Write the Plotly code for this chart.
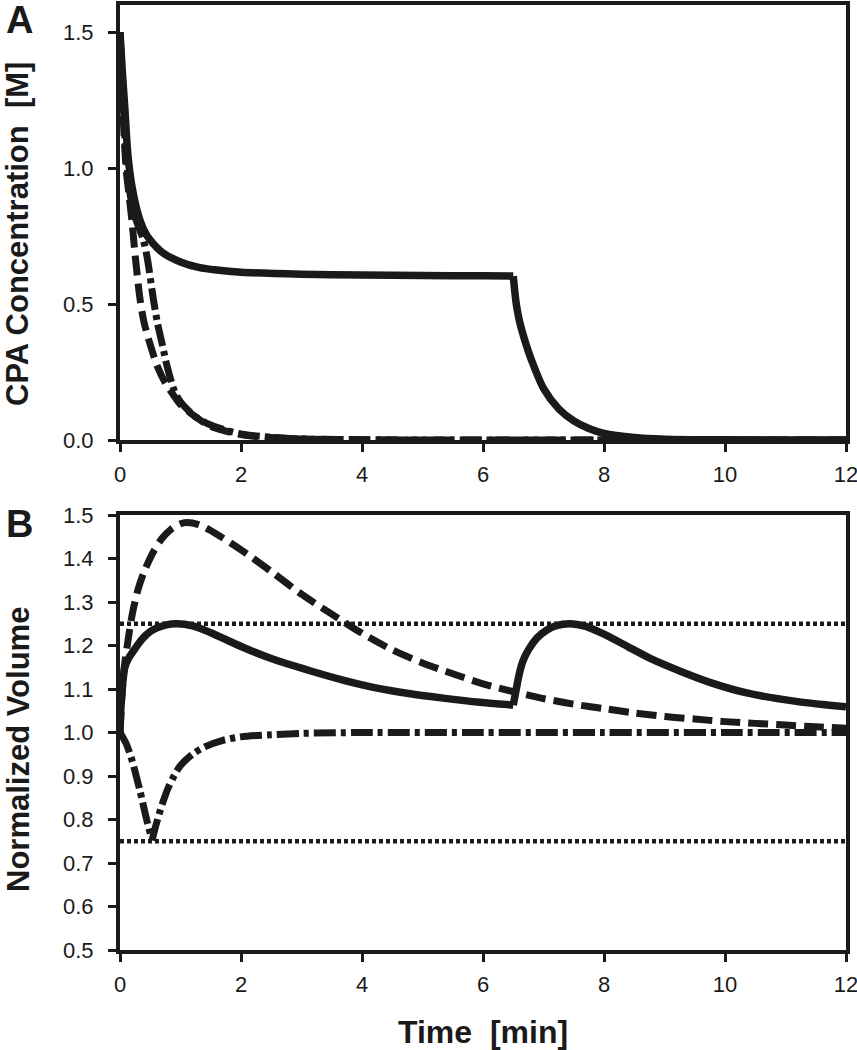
import plotly.graph_objects as go
from plotly.subplots import make_subplots

# ---------------- Panel A: CPA concentration [M] ----------------
tA_solid = [0, 0.04, 0.08, 0.13, 0.2, 0.3, 0.4, 0.5, 0.7, 1.0, 1.3, 1.6, 2.0, 3.0, 4.0, 5.0, 6.0, 6.5,
            6.55, 6.6, 6.7, 6.8, 7.0, 7.25, 7.5, 7.75, 8.0, 8.5, 9.0, 10.0, 12.0]
cA_solid = [1.5, 1.35, 1.22, 1.05, 0.93, 0.83, 0.77, 0.735, 0.69, 0.655, 0.635, 0.625, 0.617, 0.61, 0.607, 0.605, 0.604, 0.603,
            0.5, 0.44, 0.36, 0.295, 0.19, 0.115, 0.07, 0.042, 0.024, 0.009, 0.003, 0.0005, 0.0]

tA_dash = [0, 0.05, 0.1, 0.15, 0.2, 0.25, 0.33, 0.4, 0.5, 0.62, 0.75, 0.9, 1.0, 1.25, 1.5, 2.0, 2.5, 3.0, 4.0, 6.0, 12.0]
cA_dash = [1.5, 1.2, 1.0, 0.9, 0.8, 0.68, 0.52, 0.43, 0.35, 0.27, 0.21, 0.16, 0.13, 0.085, 0.05, 0.02, 0.009, 0.004, 0.001, 0.0, 0.0]

tA_dashdot = [0, 0.05, 0.1, 0.17, 0.25, 0.38, 0.45, 0.55, 0.62, 0.7, 0.78, 0.9, 1.0, 1.25, 1.5, 2.0, 2.5, 3.0, 4.0, 6.0, 12.0]
cA_dashdot = [1.5, 1.25, 1.05, 0.9, 0.82, 0.74, 0.67, 0.52, 0.43, 0.35, 0.27, 0.18, 0.14, 0.085, 0.055, 0.022, 0.01, 0.004, 0.001, 0.0, 0.0]

# ---------------- Panel B: normalized volume ----------------
tB_solid = [0, 0.02, 0.05, 0.08, 0.14, 0.22, 0.3, 0.38, 0.5, 0.6, 0.75, 0.94, 1.2, 1.49, 2.03, 2.5, 3.14, 3.7, 4.25,
            4.8, 5.34, 5.9, 6.5, 6.55, 6.6, 6.66, 6.75, 6.89, 7.05, 7.2, 7.44, 7.7, 8.0, 8.4, 8.8, 9.26, 9.8, 10.36, 11.2, 12.0]
vB_solid = [1.0, 1.07, 1.12, 1.15, 1.17, 1.187, 1.203, 1.217, 1.232, 1.24, 1.247, 1.25, 1.245, 1.23, 1.196, 1.17, 1.142, 1.12, 1.102,
            1.089, 1.079, 1.07, 1.063, 1.1, 1.135, 1.164, 1.19, 1.217, 1.235, 1.245, 1.25, 1.244, 1.226, 1.197, 1.168, 1.141, 1.113, 1.091, 1.071, 1.059]

tB_dash = [0, 0.03, 0.07, 0.12, 0.2, 0.3, 0.4, 0.55, 0.7, 0.85, 1.0, 1.1, 1.3, 1.49, 2.0, 2.5, 3.0, 3.5, 4.0, 4.5,
           5.0, 5.5, 6.0, 6.5, 7.0, 7.5, 8.0, 8.5, 9.0, 9.5, 10.0, 10.5, 11.0, 11.5, 12.0]
vB_dash = [1.0, 1.08, 1.15, 1.2, 1.27, 1.33, 1.37, 1.415, 1.447, 1.468, 1.48, 1.483, 1.478, 1.465, 1.42, 1.37, 1.318, 1.272, 1.228, 1.19,
           1.16, 1.135, 1.112, 1.094, 1.078, 1.065, 1.055, 1.045, 1.037, 1.031, 1.025, 1.021, 1.017, 1.013, 1.01]

tB_dashdot = [0, 0.1, 0.19, 0.33, 0.44, 0.53, 0.6, 0.7, 0.8, 0.9, 1.0, 1.2, 1.4, 1.7, 2.0, 2.5, 3.0, 4.0, 6.0, 8.0, 10.0, 12.0]
vB_dashdot = [1.0, 0.975, 0.94, 0.866, 0.80, 0.752, 0.79, 0.836, 0.874, 0.902, 0.924, 0.95, 0.967, 0.982, 0.99, 0.995, 0.998, 1.0, 1.0, 1.0, 1.0, 1.0]

t_limits = [0, 12]
upper_limit = [1.25, 1.25]
lower_limit = [0.75, 0.75]

x_ticks = [0, 2, 4, 6, 8, 10, 12]
yA_ticks = [0.0, 0.5, 1.0, 1.5]
yB_ticks = [0.5, 0.6, 0.7, 0.8, 0.9, 1.0, 1.1, 1.2, 1.3, 1.4, 1.5]

INK = "#1a1a1a"
W_SOLID = 7.5
DASH = "20px,8px"
DASHDOT = "22px,5px,5px,5px"
DOT = "4px,3px"

# figure geometry (pixels)
FIG_W, FIG_H = 857, 1050
ML, MR, MT, MB = 120, 11, 5, 100
PLOT_H = FIG_H - MT - MB
A_top, A_bot = 5, 440
B_top, B_bot = 515, 950


def ydom(top_px, bot_px):
    return [(FIG_H - MB - bot_px) / PLOT_H, (FIG_H - MB - top_px) / PLOT_H]


fig = make_subplots(rows=2, cols=1)


def line(x, y, dash, width, row, shape="spline"):
    fig.add_trace(go.Scatter(x=x, y=y, mode="lines",
                             line=dict(color=INK, width=width, dash=dash, shape=shape, smoothing=0.8),
                             showlegend=False, hoverinfo="skip"), row=row, col=1)


def split_line(x, y, at, dash, width, row):
    # draw a curve with a sharp corner at x == at as two smooth pieces
    i = x.index(at)
    line(x[:i + 1], y[:i + 1], dash, width, row)
    line(x[i:], y[i:], dash, width, row)


line(tA_dash, cA_dash, DASH, 7, 1)
line(tA_dashdot, cA_dashdot, DASHDOT, 7, 1)
split_line(tA_solid, cA_solid, 6.5, "solid", W_SOLID, 1)

line(t_limits, upper_limit, DOT, 4.5, 2, "linear")
line(t_limits, lower_limit, DOT, 4.5, 2, "linear")
line(tB_dash, vB_dash, DASH, 7, 2)
split_line(tB_dashdot, vB_dashdot, 0.53, DASHDOT, 7, 2)
split_line(tB_solid, vB_solid, 6.5, "solid", W_SOLID, 2)

tickfont = dict(family="Liberation Sans, Arial, sans-serif", size=22, color=INK)
axis_common = dict(showline=True, linecolor=INK, linewidth=4, mirror=True,
                   ticks="outside", ticklen=8, tickwidth=3, tickcolor=INK,
                   showgrid=False, zeroline=False, tickfont=tickfont,
                   automargin=False, ticklabeloverflow="allow")

fig.update_xaxes(range=[0, 12], tickvals=x_ticks, ticklabelstandoff=4, **axis_common)
fig.update_yaxes(**axis_common)
fig.update_yaxes(row=1, col=1, range=[0, 1.6], tickvals=yA_ticks, tickformat=".1f",
                 domain=ydom(A_top, A_bot), ticklabelstandoff=10)
fig.update_yaxes(row=2, col=1, range=[0.5, 1.5], tickvals=yB_ticks, tickformat=".1f",
                 domain=ydom(B_top, B_bot), ticklabelstandoff=10)


def px_x(px):
    return (px - ML) / (FIG_W - ML - MR)


def px_y(py):
    return (FIG_H - MB - py) / PLOT_H


title_font = dict(family="Liberation Sans, Arial, sans-serif", size=31, color=INK)
annotations = [
    dict(text="<b>CPA Concentration  [M]</b>", x=px_x(18), y=px_y(234), textangle=-90, font=title_font),
    dict(text="<b>Normalized Volume</b>", x=px_x(18), y=px_y(750), textangle=-90, font=title_font),
    dict(text="<b>Time  [min]</b>", x=px_x(483), y=px_y(1032),
         font=dict(family="Liberation Sans Narrow, Arial Narrow, Liberation Sans, sans-serif", size=32, color=INK)),
    dict(text="<b>A</b>", x=px_x(19), y=px_y(20),
         font=dict(family="Liberation Sans, Arial, sans-serif", size=38, color=INK)),
    dict(text="<b>B</b>", x=px_x(19), y=px_y(524),
         font=dict(family="Liberation Sans, Arial, sans-serif", size=38, color=INK)),
]
for a in annotations:
    a.update(xref="paper", yref="paper", showarrow=False, xanchor="center", yanchor="middle")

fig.update_layout(width=FIG_W, height=FIG_H,
                  margin=dict(l=ML, r=MR, t=MT, b=MB, autoexpand=False),
                  plot_bgcolor="white", paper_bgcolor="white", annotations=annotations)

fig.write_html("out.html", config={"displayModeBar": False},
               post_script="document.body.style.margin='0';document.body.style.overflow='hidden';")
